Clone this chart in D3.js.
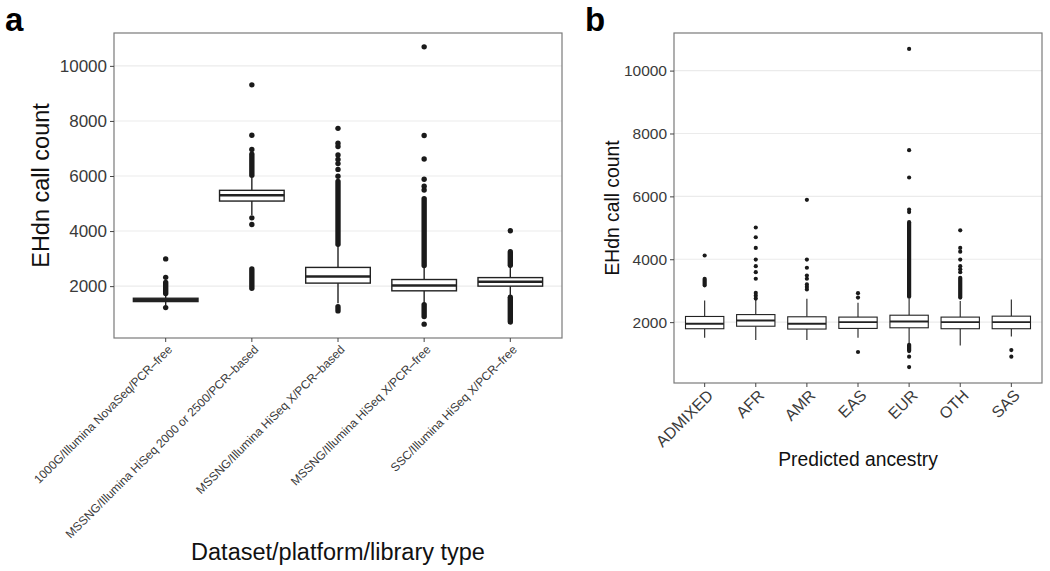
<!DOCTYPE html>
<html><head><meta charset="utf-8">
<script src="https://cdn.jsdelivr.net/npm/d3@7"></script>
<style>body{margin:0;background:#fff} svg{display:block} text{font-family:"Liberation Sans",Arial,sans-serif}</style>
</head><body><svg id="c" width="1050" height="571"></svg>
<script>
// ---------- Panel a data ----------
const catsA = ["1000G/Illumina NovaSeq/PCR\u2013free","MSSNG/Illumina HiSeq 2000 or 2500/PCR\u2013based","MSSNG/Illumina HiSeq X/PCR\u2013based","MSSNG/Illumina HiSeq X/PCR\u2013free","SSC/Illumina HiSeq X/PCR\u2013free"];
const loA  = [1300, 4580, 1380, 1350, 1680];
const q1A  = [1440, 5090, 2110, 1830, 2000];
const medA = [1500, 5300, 2350, 2020, 2160];
const q3A  = [1560, 5480, 2680, 2240, 2310];
const hiA  = [1680, 5980, 3490, 2700, 2720];
const outA = [
  [1220, 2320, 2990],
  [4480, 4240, 6960, 7480, 9310],
  [5990, 6240, 6450, 6600, 6760, 7070, 7190, 7730],
  [620, 5490, 5630, 5880, 6620, 7470, 10690],
  [4010]
];
// dense outlier runs (overlapping points), [from, to]
const runsA = [
  [[1730, 2130]],
  [[6030, 6790], [1920, 2620]],
  [[3520, 5800], [1100, 1250]],
  [[2750, 5180], [900, 1330]],
  [[2760, 3250], [700, 1600]]
];
const ticksY = [2000, 4000, 6000, 8000, 10000];

// ---------- Panel b data ----------
const catsB = ["ADMIXED","AFR","AMR","EAS","EUR","OTH","SAS"];
const loB  = [1500, 1430, 1430, 1500, 1290, 1260, 1540];
const q1B  = [1790, 1870, 1780, 1800, 1820, 1790, 1790];
const medB = [1950, 2050, 1950, 2000, 2020, 2000, 2000];
const q3B  = [2180, 2240, 2170, 2160, 2220, 2160, 2190];
const hiB  = [2690, 2720, 2740, 2620, 2750, 2670, 2720];
const outB = [
  [4120],
  [2750, 2840, 2930, 3380, 3590, 3780, 3990, 4360, 4700, 5010],
  [3040, 3120, 3200, 3380, 3480, 3730, 3990, 5890],
  [2780, 2920, 1050],
  [5500, 5580, 6600, 7470, 10690, 900, 570],
  [3590, 3680, 3780, 3990, 4240, 4360, 4920],
  [1110, 900]
];
const runsB = [
  [[3170, 3380]],
  [],
  [],
  [],
  [[2810, 5180], [1080, 1280]],
  [[2780, 3410]],
  []
];

const svg = d3.select("#c");

function panel(o) {
  const g = svg.append("g");
  const all = [].concat(o.lo, o.hi, ...o.out, ...o.runs.flat(2));
  const mn = d3.min(all), mx = d3.max(all), pad = (mx - mn) * 0.05;
  const y = d3.scaleLinear().domain([mn - pad, mx + pad]).range([o.bottom, o.top]);
  const n = o.cats.length;
  const x = d3.scaleLinear().domain([-0.6, n - 1 + 0.6]).range([o.left, o.right]);
  const unit = x(1) - x(0);
  const bw = unit * 0.75;

  // grid
  g.selectAll(".grid").data(o.ticks).join("line")
    .attr("x1", o.left).attr("x2", o.right)
    .attr("y1", d => y(d)).attr("y2", d => y(d))
    .attr("stroke", "#ebebeb").attr("stroke-width", 1.1);

  const idx = d3.range(n);
  // whiskers
  g.selectAll(".wu").data(idx).join("line")
    .attr("x1", i => x(i)).attr("x2", i => x(i))
    .attr("y1", i => y(o.q3[i])).attr("y2", i => y(o.hi[i]))
    .attr("stroke", "#222").attr("stroke-width", o.sw);
  g.selectAll(".wl").data(idx).join("line")
    .attr("x1", i => x(i)).attr("x2", i => x(i))
    .attr("y1", i => y(o.q1[i])).attr("y2", i => y(o.lo[i]))
    .attr("stroke", "#222").attr("stroke-width", o.sw);
  // outlier runs
  idx.forEach(i => {
    g.selectAll(null).data(o.runs[i]).join("line")
      .attr("x1", x(i)).attr("x2", x(i))
      .attr("y1", d => y(d[0])).attr("y2", d => y(d[1]))
      .attr("stroke", "#1a1a1a").attr("stroke-width", o.r * 2)
      .attr("stroke-linecap", "round");
    g.selectAll(null).data(o.out[i]).join("circle")
      .attr("cx", x(i)).attr("cy", d => y(d)).attr("r", o.r)
      .attr("fill", "#1a1a1a");
  });
  // boxes
  g.selectAll(".box").data(idx).join("rect")
    .attr("x", i => x(i) - bw / 2).attr("width", bw)
    .attr("y", i => y(o.q3[i])).attr("height", i => y(o.q1[i]) - y(o.q3[i]))
    .attr("fill", "#fff").attr("stroke", "#222").attr("stroke-width", o.sw);
  g.selectAll(".med").data(idx).join("line")
    .attr("x1", i => x(i) - bw / 2).attr("x2", i => x(i) + bw / 2)
    .attr("y1", i => y(o.med[i])).attr("y2", i => y(o.med[i]))
    .attr("stroke", "#222").attr("stroke-width", o.sw * 1.8);

  // border
  g.append("rect").attr("x", o.left).attr("y", o.top)
    .attr("width", o.right - o.left).attr("height", o.bottom - o.top)
    .attr("fill", "none").attr("stroke", "#7a7a7a").attr("stroke-width", 1.2);

  // y axis
  const ya = g.append("g").attr("transform", `translate(${o.left},0)`)
    .call(d3.axisLeft(y).tickValues(o.ticks).tickSize(4).tickPadding(3).tickFormat(d3.format("d")));
  ya.select(".domain").remove();
  ya.selectAll(".tick line").attr("stroke", "#444");
  ya.selectAll(".tick text").attr("font-size", o.yfs).attr("fill", "#3a3a3a")
    .attr("font-family", "Liberation Sans, Arial, sans-serif");

  // x axis ticks
  g.selectAll(".xt").data(idx).join("line")
    .attr("x1", i => x(i)).attr("x2", i => x(i))
    .attr("y1", o.bottom).attr("y2", o.bottom + 4)
    .attr("stroke", "#444");
  g.selectAll(".xl").data(idx).join("text")
    .attr("transform", i => `translate(${x(i) + o.xdx},${o.bottom + o.xdy}) rotate(-45)`)
    .attr("text-anchor", "end").attr("dy", "0.75em")
    .attr("font-size", o.xfs).attr("fill", "#3a3a3a")
    .text(i => o.cats[i]);

  // titles
  g.append("text")
    .attr("transform", `translate(${o.ytx},${(o.top + o.bottom) / 2}) rotate(-90)`)
    .attr("text-anchor", "middle").attr("font-size", o.ytfs).attr("fill", "#111")
    .text("EHdn call count");
  g.append("text").attr("x", (o.left + o.right) / 2).attr("y", o.xty)
    .attr("text-anchor", "middle").attr("font-size", o.xtfs).attr("fill", "#111")
    .text(o.xtitle);
  g.append("text").attr("x", o.lx).attr("y", 31)
    .attr("font-family", "Lato, 'Open Sans', sans-serif").attr("font-weight", 900)
    .attr("font-size", 33).attr("fill", "#000").text(o.letter);
}

panel({cats: catsA, lo: loA, q1: q1A, med: medA, q3: q3A, hi: hiA, out: outA, runs: runsA,
  ticks: ticksY, left: 114, right: 562, top: 33, bottom: 338, sw: 1.4, r: 2.7,
  yfs: 17, xfs: 12, xdx: 1, xdy: 6, ytfs: 23.5, ytx: 49, xtfs: 23.5, xty: 560,
  xtitle: "Dataset/platform/library type", letter: "a", lx: 5});

panel({cats: catsB, lo: loB, q1: q1B, med: medB, q3: q3B, hi: hiB, out: outB, runs: runsB,
  ticks: ticksY, left: 674, right: 1042, top: 33, bottom: 383, sw: 1.1, r: 2.1,
  yfs: 15.5, xfs: 16, xdx: 1, xdy: 5, ytfs: 19.3, ytx: 619, xtfs: 19.3, xty: 466,
  xtitle: "Predicted ancestry", letter: "b", lx: 585});
</script></body></html>
